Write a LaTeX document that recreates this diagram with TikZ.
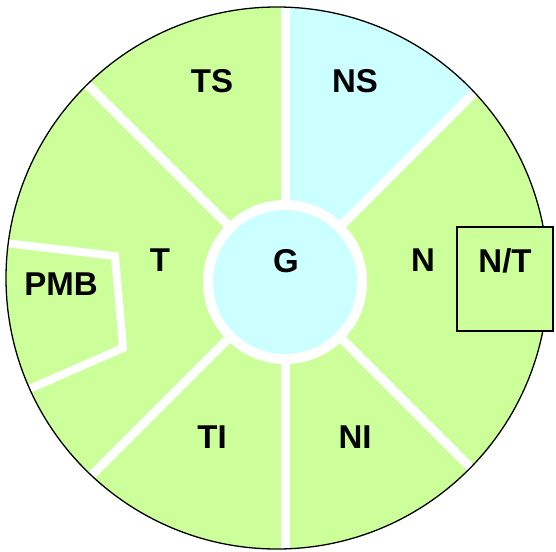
\documentclass[tikz,border=0pt]{standalone}
\usepackage{fontspec}
\setmainfont{Liberation Sans}
\usepackage{xcolor}
\usetikzlibrary{calc}
\definecolor{fieldgreen}{RGB}{204,255,153}
\definecolor{fieldblue}{RGB}{204,255,255}

\begin{document}
\begin{tikzpicture}[x=1pt,y=-1pt,
    sector/.style={font=\fontsize{33}{33}\selectfont\bfseries,anchor=base,inner sep=0pt},
    divider/.style={white,line width=9pt}]
    \useasboundingbox (0,0) rectangle (556,551);
    % Field of view
    \coordinate (O) at (277,278);
    \coordinate (C) at (285,282);
    \fill[fieldgreen] (O) circle (271pt);
    \begin{scope}
      \clip (O) circle (271pt);
      % Nasal superior sector
      \fill[fieldblue] (C) -- ++(0,-400) -- ++(400,0) -- cycle;
      % Sector borders
      \foreach \a in {45,90,135,225,270,315}
        \draw[divider] (C) -- ++(\a:400);
      % Papillomacular bundle
      \draw[white,line width=8pt,line join=miter] (5,243) -- (115,256) -- (123,348) -- (20,393);
    \end{scope}
    % Global circle
    \fill[white] (C) circle (82pt);
    \fill[fieldblue] (C) circle (72pt);
    % Outline
    \draw[line width=1.3pt] (O) circle (271pt);
    % N/T box
    \draw[fill=fieldgreen,line width=1.3pt] (457,227) rectangle (553,331);
    % Labels
    \node[sector] (ts) at (212,92) {TS};
    \node[sector] (ns) at (355,92) {NS};
    \node[sector] (t) at (160,271) {T};
    \node[sector] (g) at (286,272) {G};
    \node[sector] (n) at (423,271) {N};
    \node[sector] (nt) at (505,272) {N/T};
    \node[sector] (pmb) at (61,295) {PMB};
    \node[sector] (ti) at (212,448) {TI};
    \node[sector] (ni) at (355,448) {NI};
\end{tikzpicture}
\end{document}
